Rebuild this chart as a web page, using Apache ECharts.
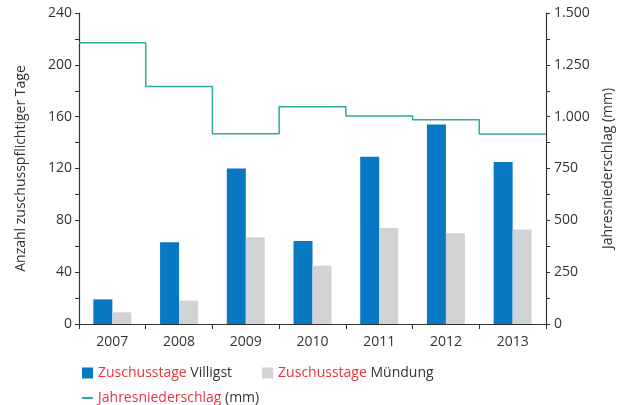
<!DOCTYPE html>
<html>
<head>
<meta charset="utf-8">
<script src="https://cdn.jsdelivr.net/npm/echarts@6/dist/echarts.min.js"></script>
<style>
  html, body { margin: 0; padding: 0; background: #fff; }
  #chart { width: 617px; height: 405px; }
</style>
</head>
<body>
<div id="chart"></div>
<script>
const years = ['2007', '2008', '2009', '2010', '2011', '2012', '2013'];
const villigst = [19, 63, 120, 64, 129, 154, 125];
const muendung = [9, 18, 67, 45, 74, 70, 73];
const niederschlag = [1357, 1146, 918, 1048, 1003, 985, 916];
const leftTicks = [0, 40, 80, 120, 160, 200, 240];
const rightTicks = [0, 250, 500, 750, 1000, 1250, 1500];

const font = '"Open Sans", "Noto Sans", sans-serif';
const red = '#e8333d';
const dark = '#333';
const fs = 14;

// step line spans the whole category, so run it on a hidden 0..7 value axis
const stepData = niederschlag.map((v, i) => [i, v]);
stepData.push([niederschlag.length, niederschlag[niederschlag.length - 1]]);

const germanNum = (v) => String(v).replace(/\B(?=(\d{3})+(?!\d))/g, '.');

const legendFormatter = (name) => {
  const i = name.indexOf(' ');
  return '{r|' + name.slice(0, i) + '} {d|' + name.slice(i + 1) + '}';
};
const legendText = {
  fontFamily: font,
  fontSize: fs,
  rich: {
    r: { color: red, fontFamily: font, fontSize: fs },
    d: { color: dark, fontFamily: font, fontSize: fs },
  },
};

const myChart = echarts.init(document.getElementById('chart'));
const option = {
  animation: false,
  textStyle: { fontFamily: font },
  grid: { left: 79, right: 71, top: 13, bottom: 81, containLabel: false, outerBoundsMode: 'none' },
  legend: [
    {
      left: 77,
      top: 361,
      itemWidth: 11,
      itemHeight: 11,
      itemGap: 30,
      icon: 'rect',
      data: ['Zuschusstage Villigst', 'Zuschusstage Mündung'],
      formatter: legendFormatter,
      textStyle: legendText,
    },
    {
      left: 77,
      top: 386,
      itemWidth: 11,
      itemHeight: 2,
      icon: 'rect',
      data: ['Jahresniederschlag (mm)'],
      formatter: legendFormatter,
      textStyle: legendText,
    },
  ],
  xAxis: [
    {
      type: 'category',
      data: years,
      axisLine: { lineStyle: { color: dark, width: 1.2 } },
      axisTick: { show: true, length: 5, lineStyle: { color: dark } },
      axisLabel: { color: dark, fontSize: fs, margin: 11 },
    },
    {
      type: 'value',
      min: 0,
      max: years.length,
      show: false,
    },
  ],
  yAxis: [
    {
      type: 'value',
      min: leftTicks[0],
      max: leftTicks[leftTicks.length - 1],
      interval: 40,
      name: 'Anzahl zuschusspflichtiger Tage',
      nameLocation: 'middle',
      nameGap: 51,
      nameTextStyle: { color: dark, fontSize: fs },
      axisLine: { show: true, lineStyle: { color: dark, width: 1.2 } },
      axisTick: { show: true, length: 4, lineStyle: { color: dark } },
      minorTick: { show: true, splitNumber: 2, length: 4, lineStyle: { color: dark } },
      axisLabel: { color: dark, fontSize: fs, margin: 7 },
      splitLine: { show: false },
    },
    {
      type: 'value',
      min: rightTicks[0],
      max: rightTicks[rightTicks.length - 1],
      interval: 250,
      name: 'Jahresniederschlag (mm)',
      nameLocation: 'middle',
      nameGap: 48,
      nameRotate: 90,
      nameTextStyle: { color: dark, fontSize: fs },
      axisLine: { show: true, lineStyle: { color: dark, width: 1.2 } },
      axisTick: { show: true, length: 4, lineStyle: { color: dark } },
      minorTick: { show: true, splitNumber: 2, length: 4, lineStyle: { color: dark } },
      axisLabel: { color: dark, fontSize: fs, margin: 8, formatter: germanNum },
      splitLine: { show: false },
    },
  ],
  series: [
    {
      name: 'Zuschusstage Villigst',
      type: 'bar',
      data: villigst,
      barWidth: 19,
      barGap: '0%',
      itemStyle: { color: '#0878c2' },
    },
    {
      name: 'Zuschusstage Mündung',
      type: 'bar',
      data: muendung,
      barWidth: 19,
      itemStyle: { color: '#d1d2d4' },
    },
    {
      name: 'Jahresniederschlag (mm)',
      type: 'line',
      xAxisIndex: 1,
      yAxisIndex: 1,
      step: 'end',
      data: stepData,
      symbol: 'none',
      lineStyle: { color: '#2fa8a0', width: 1.5 },
      itemStyle: { color: '#2fa8a0' },
    },
  ],
};
myChart.setOption(option);
</script>
</body>
</html>
